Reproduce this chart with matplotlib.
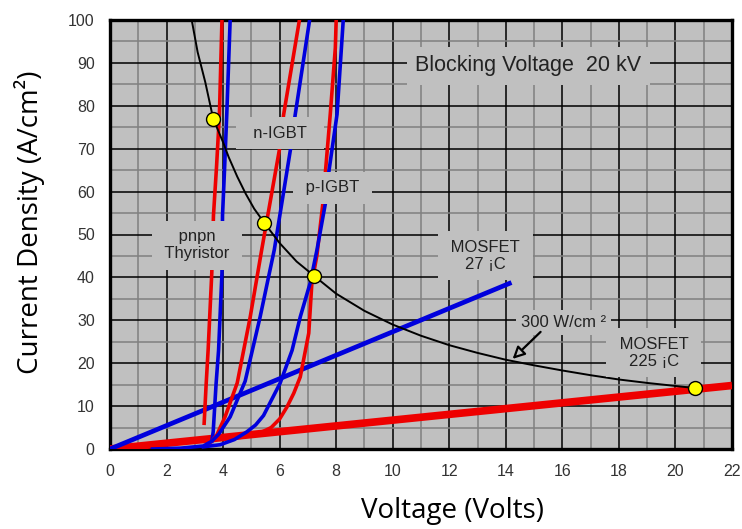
import numpy as np
import matplotlib
matplotlib.use('Agg')
import matplotlib.pyplot as plt

# constant power curve, 300 W/cm^2
power_v = [2.89, 3.1, 3.37, 3.65, 4.0, 4.2, 4.5, 4.8, 5.1, 5.46, 6.0, 6.6, 7.23, 8.0,
           9.0, 10.0, 11.0, 12.0, 13.0, 14.0, 15.0, 16.0, 17.0, 18.0, 19.0, 20.7]
power_j = [100, 92.5, 85.5, 77, 71.5, 68, 63.5, 59.5, 56, 52.7, 48, 43.7, 40.3, 36.2,
           32.2, 29, 26.4, 24.2, 22.4, 20.8, 19.5, 18.3, 17.2, 16.2, 15.4, 14.2]

# pnpn thyristor
thy_red_v = [3.33, 3.4, 3.47, 3.6, 3.66, 3.77, 3.87, 3.96]
thy_red_j = [6, 15, 23, 41, 54.5, 66, 78, 100]
thy_blue_v = [3.6, 3.65, 3.75, 3.84, 3.96, 3.98, 4.05, 4.13, 4.25]
thy_blue_j = [1.8, 4, 15, 23, 41, 54.5, 65, 78, 100]

# n-IGBT
nigbt_red_v = [3.4, 3.6, 3.78, 4.07, 4.5, 4.96, 5.37, 5.99, 6.14, 6.7]
nigbt_red_j = [0.8, 1.8, 3.3, 7.5, 15.4, 30.8, 46.6, 69.7, 77.9, 100]
nigbt_blue_v = [1.5, 2.5, 3.3, 3.6, 3.85, 4.25, 4.78, 5.31, 5.81, 6.38, 6.55, 7.06]
nigbt_blue_j = [0, 0.2, 0.7, 1.8, 3.5, 7.5, 15.8, 30.8, 46.4, 69.7, 77.9, 100]

# p-IGBT
pigbt_red_v = [4.5, 5.2, 5.7, 6.0, 6.26, 6.5, 6.73, 7.03, 7.14, 7.32, 7.53, 7.62, 7.79, 7.97, 8.0]
pigbt_red_j = [2.6, 3.4, 5, 7, 9.8, 13, 16.8, 27, 38.7, 45.2, 57.3, 64.6, 78, 93.5, 100]
pigbt_blue_v = [3.3, 3.9, 4.4, 4.84, 5.15, 5.43, 6.02, 6.44, 6.73, 7.08, 7.32, 7.62, 7.74, 8.03, 8.25]
pigbt_blue_j = [0.5, 1.0, 2.2, 4.0, 5.6, 7.8, 15.4, 23, 30.8, 38.7, 46.4, 57.3, 64.6, 78, 100]

# MOSFETs
mos27_v = [0, 14.2]
mos27_j = [0, 38.8]
mos225_v = [0, 22]
mos225_j = [0, 14.8]

# operating points at 300 W/cm^2
op_v = [3.65, 5.46, 7.23, 20.7]
op_j = [77, 52.7, 40.3, 14.3]

RED = '#ee0000'
BLUE = '#0000dd'
BG = '#c0c0c0'

fig = plt.figure(figsize=(7.42, 5.29), dpi=100)
ax = fig.add_axes([110/742, 1 - 449/529, 622/742, 429/529])
ax.set_facecolor(BG)

ax.set_xlim(0, 22)
ax.set_ylim(0, 100)
ax.set_xticks(range(0, 23, 2))
ax.set_yticks(range(0, 101, 10))
ax.set_xticks(range(1, 22, 2), minor=True)
ax.set_yticks(range(5, 100, 10), minor=True)
ax.grid(which='major', color='black', lw=1.1)
ax.grid(which='minor', color='#808080', lw=1.1)
ax.set_axisbelow(True)
ax.tick_params(which='both', length=0)
ax.tick_params(axis='both', pad=11, labelsize=11.5, labelcolor='#333333')
for lab in ax.get_xticklabels() + ax.get_yticklabels():
    lab.set_family('Liberation Sans')
for sp in ax.spines.values():
    sp.set_linewidth(2.4)
    sp.set_color('black')

ax.plot(mos225_v, mos225_j, color=RED, lw=5.5, solid_capstyle='butt', zorder=3)
ax.plot(mos27_v, mos27_j, color=BLUE, lw=3.4, solid_capstyle='butt', zorder=3)
ax.plot(thy_red_v, thy_red_j, color=RED, lw=2.6, zorder=3)
ax.plot(thy_blue_v, thy_blue_j, color=BLUE, lw=2.6, zorder=3)
ax.plot(nigbt_red_v, nigbt_red_j, color=RED, lw=2.6, zorder=3)
ax.plot(nigbt_blue_v, nigbt_blue_j, color=BLUE, lw=2.6, zorder=3)
ax.plot(pigbt_red_v, pigbt_red_j, color=RED, lw=2.6, zorder=3)
ax.plot(pigbt_blue_v, pigbt_blue_j, color=BLUE, lw=2.6, zorder=3)
ax.plot(power_v, power_j, color='black', lw=1.4, zorder=4)
ax.plot(op_v, op_j, 'o', ms=10, mfc='#ffff00', mec='black', mew=1.0, zorder=6, clip_on=False)

def label(x, y, s, size=12, pad=0.5):
    ax.text(x, y, s, ha='center', va='center', fontsize=size, family='Liberation Sans',
            color='#222222', linespacing=1.2, zorder=5,
            bbox=dict(boxstyle='square,pad=%s' % pad, fc=BG, ec='none'))

label(14.8, 89.3, 'Blocking Voltage  20 kV', size=15.5, pad=0.4)
label(6.02, 73.6, '  n-IGBT  ')
label(7.86, 60.9, ' p-IGBT ')
label(3.08, 47.5, ' pnpn \n Thyristor ')
label(13.28, 45.0, ' MOSFET \n27 ¡C')
label(19.23, 22.4, ' MOSFET \n225 ¡C')
label(16.05, 29.4, '300 W/cm ²', pad=0.3)

ax.annotate('', xy=(14.24, 21.0), xytext=(15.23, 27.3),
            arrowprops=dict(arrowstyle='-|>', fc=BG, ec='black', lw=1.6,
                            mutation_scale=18, shrinkA=0, shrinkB=0), zorder=5)

ax.set_xlabel('Voltage (Volts)', family='Open Sans', fontsize=20)
ax.set_ylabel('Current Density (A/cm²)', family='Open Sans', fontsize=20)
ax.xaxis.set_label_coords(0.55, -0.112)
ax.yaxis.set_label_coords(-0.105, 0.529)

fig.savefig('out.png', dpi=100)
